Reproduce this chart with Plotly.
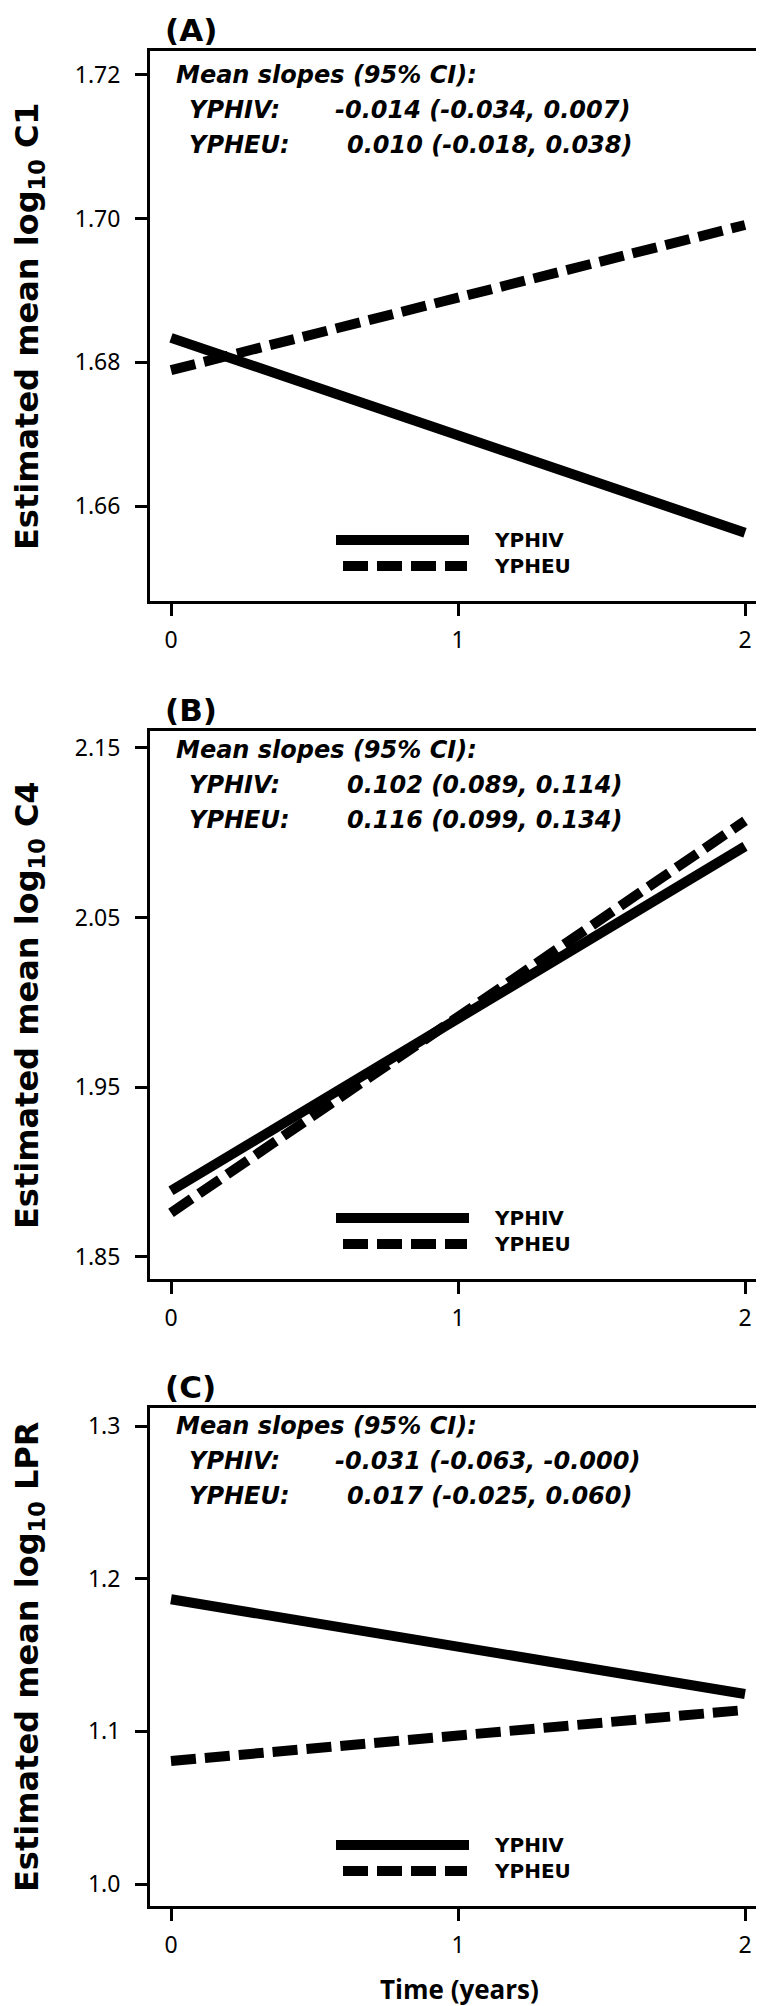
import plotly.graph_objects as go

# ---------------- data ----------------
time_years = [0, 1, 2]
panel_labels = ["(A)", "(B)", "(C)"]
outcomes = ["C1", "C4", "LPR"]
groups = ["YPHIV", "YPHEU"]

# estimated mean log10 values
c1_yphiv = [1.6834, 1.6700, 1.6563]
c1_ypheu = [1.6789, 1.6890, 1.6991]
c4_yphiv = [1.889, 1.991, 2.092]
c4_ypheu = [1.876, 1.991, 2.107]
lpr_yphiv = [1.1865, 1.156, 1.1245]
lpr_ypheu = [1.0806, 1.098, 1.1140]

# mean slopes (95% CI)
slope_yphiv = [-0.014, 0.102, -0.031]
lo_yphiv = [-0.034, 0.089, -0.063]
hi_yphiv = [0.007, 0.114, -0.0003]
slope_ypheu = [0.010, 0.116, 0.017]
lo_ypheu = [-0.018, 0.099, -0.025]
hi_ypheu = [0.038, 0.134, 0.060]

# axis ticks
yticks_a = [1.66, 1.68, 1.70, 1.72]
yticks_b = [1.85, 1.95, 2.05, 2.15]
yticks_c = [1.0, 1.1, 1.2, 1.3]
xticks = [0, 1, 2]

# ---------------- layout helpers ----------------
W, H = 764, 2006
def px(x):
    return x / W
def py(y):
    return 1 - y / H

BOX_L, BOX_R = 142, 760
X0_PX, X2_PX = 163, 737
unit = (X2_PX - X0_PX) / 2
xrange_ = [0 - (X0_PX - BOX_L) / unit, 2 + (BOX_R - X2_PX) / unit]

panels = [
    dict(top=43, bottom=593, yrange=[1.6468, 1.7233], ticks=yticks_a, fmt=".2f",
         s1=c1_yphiv, s2=c1_ypheu, txt_off=24),
    dict(top=723, bottom=1271, yrange=[1.837, 2.160], ticks=yticks_b, fmt=".2f",
         s1=c4_yphiv, s2=c4_ypheu, txt_off=19),
    dict(top=1400, bottom=1898, yrange=[0.9856, 1.3118], ticks=yticks_c, fmt=".1f",
         s1=lpr_yphiv, s2=lpr_ypheu, txt_off=18),
]

LINE_W = 10
DASH = "25px,9px"
tick_font = dict(family="Noto Sans", size=23, color="black")
note_font = dict(family="DejaVu Sans", size=24, color="black")

fig = go.Figure()
annotations = []
shapes = []

def fmt(v):
    return f"{v:.3f}"

for i, p in enumerate(panels):
    xa = "x" if i == 0 else f"x{i+1}"
    ya = "y" if i == 0 else f"y{i+1}"
    fig.add_trace(go.Scatter(x=time_years, y=p["s1"], mode="lines", xaxis=xa, yaxis=ya,
                             line=dict(color="black", width=LINE_W), showlegend=False,
                             name=groups[0]))
    fig.add_trace(go.Scatter(x=time_years, y=p["s2"], mode="lines", xaxis=xa, yaxis=ya,
                             line=dict(color="black", width=LINE_W, dash=DASH),
                             showlegend=False, name=groups[1]))

    xkey = "xaxis" if i == 0 else f"xaxis{i+1}"
    ykey = "yaxis" if i == 0 else f"yaxis{i+1}"
    fig.update_layout(**{
        xkey: dict(domain=[px(BOX_L), px(BOX_R)], range=xrange_, anchor=ya,
                   tickvals=xticks, ticktext=[str(t) for t in xticks],
                   ticks="outside", ticklen=12, tickwidth=3, tickcolor="black",
                   showline=True, linewidth=3, linecolor="black", mirror=True,
                   showgrid=False, zeroline=False, tickfont=tick_font,
                   ticklabelstandoff=4),
        ykey: dict(domain=[py(p["bottom"]), py(p["top"])], range=p["yrange"], anchor=xa,
                   tickvals=p["ticks"], ticktext=[format(t, p["fmt"]) for t in p["ticks"]],
                   ticks="outside", ticklen=12, tickwidth=3, tickcolor="black",
                   showline=True, linewidth=3, linecolor="black", mirror=True,
                   showgrid=False, zeroline=False, tickfont=tick_font,
                   ticklabelstandoff=10),
    })

    # panel label
    annotations.append(dict(text=f"<b>{panel_labels[i]}</b>", xref="paper", yref="paper",
                            x=px(155), y=py(p["top"] - 21), xanchor="left", yanchor="middle",
                            showarrow=False,
                            font=dict(family="DejaVu Sans", size=31, color="black")))
    # y title
    annotations.append(dict(text=f"<b>Estimated mean log<sub>10</sub> {outcomes[i]}</b>",
                            xref="paper", yref="paper", x=px(21),
                            y=py((p["top"] + p["bottom"]) / 2), xanchor="center",
                            yanchor="middle", textangle=-90, showarrow=False,
                            font=dict(family="DejaVu Sans", size=32, color="black")))
    # slopes text
    t0 = p["top"] + p["txt_off"]
    annotations.append(dict(text="<b><i>Mean slopes (95% CI):</i></b>", xref="paper",
                            yref="paper", x=px(166), y=py(t0), xanchor="left",
                            yanchor="middle", showarrow=False, font=note_font))
    rows = [(groups[0], slope_yphiv[i], lo_yphiv[i], hi_yphiv[i]),
            (groups[1], slope_ypheu[i], lo_ypheu[i], hi_ypheu[i])]
    for k, (g, s, lo, hi) in enumerate(rows):
        yy = py(t0 + 35 * (k + 1))
        annotations.append(dict(text=f"<b><i>{g}:</i></b>", xref="paper", yref="paper",
                                x=px(179), y=yy, xanchor="left", yanchor="middle",
                                showarrow=False, font=note_font))
        vx = 325 if s < 0 else 337
        annotations.append(dict(text=f"<b><i>{fmt(s)} ({fmt(lo)}, {fmt(hi)})</i></b>",
                                xref="paper", yref="paper", x=px(vx), y=yy,
                                xanchor="left", yanchor="middle", showarrow=False,
                                font=note_font))
    # legend keys
    ly1 = p["bottom"] - 61
    ly2 = p["bottom"] - 35
    shapes.append(dict(type="line", xref="paper", yref="paper", x0=px(328), x1=px(461),
                       y0=py(ly1), y1=py(ly1), line=dict(color="black", width=LINE_W)))
    shapes.append(dict(type="line", xref="paper", yref="paper", x0=px(335), x1=px(459),
                       y0=py(ly2), y1=py(ly2),
                       line=dict(color="black", width=LINE_W, dash=DASH)))
    for g, ly in zip(groups, [ly1, ly2]):
        annotations.append(dict(text=f"<b>{g}</b>", xref="paper", yref="paper", x=px(484),
                                y=py(ly), xanchor="left", yanchor="middle",
                                showarrow=False,
                                font=dict(family="DejaVu Sans", size=20, color="black")))

# x-axis title
annotations.append(dict(text="<b>Time (years)</b>", xref="paper", yref="paper",
                        x=px(451), y=py(1981), xanchor="center", yanchor="middle",
                        showarrow=False,
                        font=dict(family="Open Sans", size=26, color="black")))

fig.update_layout(width=W, height=H, margin=dict(l=0, r=0, t=0, b=0),
                  paper_bgcolor="white", plot_bgcolor="white",
                  annotations=annotations, shapes=shapes, showlegend=False)

fig.write_html("out.html")
